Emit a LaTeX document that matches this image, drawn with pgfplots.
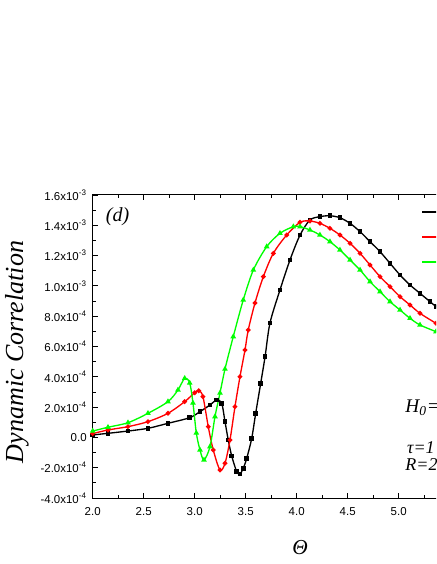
\documentclass[border=0pt]{standalone}
\usepackage{pgfplots}
\pgfplotsset{compat=1.18}
\usepackage{fontspec}
\setmainfont{Liberation Serif}
\newfontfamily\arial{Liberation Sans}

\begin{document}
\begin{tikzpicture}
% the original figure is cut off on the right: keep only that window
\path[use as bounding box] (-69.525pt,-49.5pt) rectangle (257.475pt,373.5pt);
\clip (-69.525pt,-49.5pt) rectangle (257.475pt,373.5pt);
\begin{axis}[
    at={(0,0)}, anchor=south west,
    width=306pt, height=227.25pt, scale only axis,
    xmin=2, xmax=6, ymin=-4e-4, ymax=1.6e-3,
    xtick={2,2.5,...,6},
    xticklabels={2.0,2.5,3.0,3.5,4.0,4.5,5.0,5.5,6.0},
    ytick={-4e-4,-2e-4,0,2e-4,4e-4,6e-4,8e-4,1e-3,1.2e-3,1.4e-3,1.6e-3},
    yticklabels={-4.0x10\textsuperscript{-4},-2.0x10\textsuperscript{-4},0.0,
        2.0x10\textsuperscript{-4},4.0x10\textsuperscript{-4},6.0x10\textsuperscript{-4},
        8.0x10\textsuperscript{-4},1.0x10\textsuperscript{-3},1.2x10\textsuperscript{-3},
        1.4x10\textsuperscript{-3},1.6x10\textsuperscript{-3}},
    scaled y ticks=false,
    minor x tick num=1, minor y tick num=1,
    major tick length=4pt, minor tick length=2.2pt,
    tick style={black, line width=0.6pt},
    axis line style={line width=0.75pt},
    tick label style={font=\arial\fontsize{8.6}{10}\selectfont},
    yticklabel style={xshift=-1pt},
    xticklabel style={yshift=-3.5pt},
    xlabel={\itshape Θ},
    every axis x label/.style={at={(axis description cs:0.508,-0.165)}, anchor=center,
        font=\fontsize{16}{18}\selectfont},
    ylabel={\itshape Dynamic Correlation},
    every axis y label/.style={at={(axis description cs:-0.1855,0.482)}, rotate=90,
        anchor=center, font=\fontsize{19.5}{22}\selectfont},
    legend style={at={(axis description cs:0.804,0.957)}, anchor=north west,
        draw=none, fill=none, inner sep=0pt,
        font=\itshape\fontsize{14}{18.75}\selectfont, row sep=13.2pt},
    legend cell align=left,
    legend image code/.code={\draw[#1, mark=none, line width=1.5pt] (0pt,0pt) -- (24pt,0pt);},
    clip=false,
]

% black, squares
\addplot[black, line width=1pt, smooth, mark=square*, mark size=1.2pt] coordinates {
    (2.000, 0.16e-4) (2.150, 0.27e-4) (2.346, 0.42e-4) (2.542, 0.60e-4)
    (2.738, 0.93e-4) (2.950, 1.30e-4) (3.052, 1.70e-4) (3.150, 2.14e-4)
    (3.216, 2.47e-4) (3.265, 2.25e-4) (3.297, 1.04e-4) (3.329, -0.17e-4)
    (3.363, -1.23e-4) (3.412, -2.26e-4) (3.444, -2.42e-4) (3.476, -2.04e-4)
    (3.510, -1.38e-4) (3.559, -0.06e-4) (3.598, 1.59e-4) (3.647, 3.57e-4)
    (3.690, 5.33e-4) (3.738, 7.55e-4) (3.836, 9.73e-4) (3.934, 11.71e-4)
    (4.033, 13.36e-4) (4.130, 14.35e-4) (4.228, 14.57e-4) (4.326, 14.63e-4)
    (4.424, 14.50e-4) (4.523, 14.13e-4) (4.621, 13.58e-4) (4.719, 12.92e-4)
    (4.817, 12.26e-4) (4.915, 11.49e-4) (5.013, 10.72e-4) (5.111, 10.06e-4)
    (5.209, 9.51e-4) (5.307, 8.96e-4) (5.366, 8.63e-4) (5.450, 8.20e-4)
};
\addlegendentry{}

% red, circles
\addplot[red, line width=1pt, smooth, mark=*, mark size=1.25pt] coordinates {
    (2.000, 0.25e-4) (2.150, 0.49e-4) (2.346, 0.71e-4) (2.542, 1.04e-4)
    (2.738, 1.59e-4) (2.902, 2.36e-4) (3.000, 2.95e-4) (3.040, 3.08e-4)
    (3.081, 2.69e-4) (3.133, 0.71e-4) (3.182, -0.83e-4) (3.248, -2.15e-4)
    (3.297, -1.71e-4) (3.346, -0.17e-4) (3.395, 2.03e-4) (3.444, 4.01e-4)
    (3.493, 5.77e-4) (3.525, 7.09e-4) (3.591, 8.87e-4) (3.673, 10.61e-4)
    (3.771, 12.15e-4) (3.902, 13.36e-4) (4.033, 14.20e-4) (4.130, 14.28e-4)
    (4.228, 14.13e-4) (4.326, 13.80e-4) (4.424, 13.36e-4) (4.523, 12.81e-4)
    (4.621, 12.15e-4) (4.719, 11.38e-4) (4.817, 10.61e-4) (4.915, 9.95e-4)
    (5.013, 9.29e-4) (5.111, 8.74e-4) (5.209, 8.19e-4) (5.366, 7.53e-4)
    (5.450, 7.20e-4)
};
\addlegendentry{}

% green, triangles
\addplot[green, line width=1pt, smooth, mark=triangle*, mark size=1.5pt] coordinates {
    (2.000, 0.42e-4) (2.150, 0.67e-4) (2.346, 0.97e-4) (2.542, 1.59e-4)
    (2.738, 2.36e-4) (2.836, 3.13e-4) (2.902, 3.90e-4) (2.951, 3.59e-4)
    (2.983, 2.27e-4) (3.016, 0.29e-4) (3.052, -0.83e-4) (3.091, -1.49e-4)
    (3.150, -0.61e-4) (3.199, 1.37e-4) (3.248, 2.93e-4) (3.297, 4.51e-4)
    (3.378, 6.65e-4) (3.476, 9.07e-4) (3.575, 11.05e-4) (3.706, 12.59e-4)
    (3.836, 13.47e-4) (3.967, 13.91e-4) (4.033, 13.91e-4) (4.130, 13.69e-4)
    (4.228, 13.36e-4) (4.326, 12.92e-4) (4.424, 12.37e-4) (4.523, 11.71e-4)
    (4.621, 11.05e-4) (4.719, 10.28e-4) (4.817, 9.62e-4) (4.915, 8.96e-4)
    (5.013, 8.41e-4) (5.111, 7.86e-4) (5.209, 7.42e-4) (5.366, 6.98e-4)
    (5.450, 6.75e-4)
};
\addlegendentry{}

\node[anchor=west, font=\itshape\fontsize{14.5}{17}\selectfont]
    at (axis description cs:0.755,0.297) {H\textsubscript{0}=};
\node[anchor=west, font=\itshape\fontsize{13.5}{16}\selectfont]
    at (axis description cs:0.759,0.167) {τ=1};
\node[anchor=west, font=\itshape\fontsize{13.5}{16}\selectfont]
    at (axis description cs:0.755,0.110) {R=2};
\node[font=\itshape\fontsize{15}{18}\selectfont]
    at (axis description cs:0.0608,0.927) {(d)};
\end{axis}
\end{tikzpicture}
\end{document}
